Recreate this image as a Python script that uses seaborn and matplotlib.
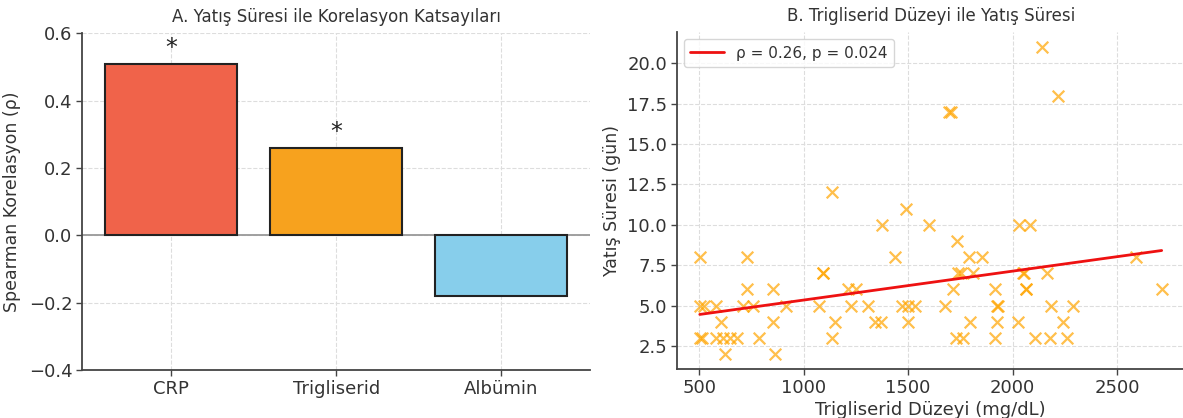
import matplotlib.pyplot as plt
import numpy as np
import pandas as pd
import seaborn as sns

# Panel A: Spearman correlations with length of stay
markers = ["CRP", "Trigliserid", "Albümin"]
rho_values = [0.51, 0.26, -0.18]
significant = [True, True, False]
bar_colors = ["#F0634A", "#F7A21E", "#87CEEB"]

# Panel B: triglyceride level vs. length of stay
trig = [503, 729, 503, 524, 580, 503, 513, 580, 612, 647, 679, 604, 623,
        729, 708, 756, 788, 851, 851, 864, 916, 1075, 1091, 1093, 1134,
        1150, 1134, 1211, 1251, 1227, 1307, 1339, 1371, 1374, 1435, 1491,
        1470, 1499, 1531, 1499, 1600, 2141, 2215, 1695, 1705, 1734, 1791,
        1854, 1739, 1755, 1811, 1715, 1675, 1794, 1731, 1763, 1914, 1925,
        1928, 1925, 1914, 2031, 2082, 2050, 2053, 2063, 2066, 2025, 2106,
        2178, 2261, 2166, 2182, 2290, 2239, 2590, 2713]
stay = [8, 8, 5, 5, 5, 3, 3, 3, 3, 3, 3, 4, 2,
        6, 5, 5, 3, 6, 4, 2, 5, 5, 7, 7, 12,
        4, 3, 6, 6, 5, 5, 4, 4, 10, 8, 11,
        5, 5, 5, 4, 10, 21, 18, 17, 17, 9, 8,
        8, 7, 7, 7, 6, 5, 4, 3, 3, 6, 5,
        5, 4, 3, 10, 10, 7, 7, 6, 6, 4, 3,
        3, 3, 7, 5, 5, 4, 8, 6]
fit_label = "ρ = 0.26, p = 0.024"

df_bar = pd.DataFrame({"marker": markers, "rho": rho_values})
df_sc = pd.DataFrame({"trig": trig, "stay": stay})

sns.set_style("white")
plt.rcParams["font.family"] = ["DejaVu Sans"]
plt.rcParams["text.color"] = "#333333"
plt.rcParams["axes.labelcolor"] = "#333333"

fig = plt.figure(figsize=(11.83, 4.18), dpi=100)
ax1 = fig.add_axes([0.0696, 0.115, 0.4291, 0.805])
ax2 = fig.add_axes([0.572, 0.1165, 0.4295, 0.8075])

# --- Panel A
sns.barplot(data=df_bar, x="marker", y="rho", hue="marker", palette=bar_colors,
            saturation=1, edgecolor="#222222", linewidth=1.5, width=0.8,
            legend=False, ax=ax1, zorder=3)
ax1.axhline(0, color="#999999", linewidth=1.3, zorder=2)
for i, (val, sig) in enumerate(zip(rho_values, significant)):
    if sig:
        ax1.text(i, val + 0.012, "*", ha="center", va="bottom", fontsize=17,
                 color="#222222")
ax1.set_xlim(-0.54, 2.54)
ax1.set_ylim(-0.4, 0.6)
ax1.set_yticks([-0.4, -0.2, 0.0, 0.2, 0.4, 0.6])
ax1.set_yticklabels(["\u22120.4", "\u22120.2", "0.0", "0.2", "0.4", "0.6"])
ax1.set_xlabel("")
ax1.set_ylabel("Spearman Korelasyon (ρ)", fontsize=12.5, labelpad=6)
ax1.set_title("A. Yatış Süresi ile Korelasyon Katsayıları", fontsize=12, pad=8)

# --- Panel B
sns.scatterplot(data=df_sc, x="trig", y="stay", marker="x", color="orange",
                alpha=0.7, s=70, linewidth=1.6, ax=ax2, zorder=3)
slope, intercept = np.polyfit(df_sc["trig"], df_sc["stay"], 1)
x_line = np.array([df_sc["trig"].min(), df_sc["trig"].max()])
ax2.plot(x_line, slope * x_line + intercept, color="#EE1111", linewidth=2,
         label=fit_label, zorder=4)
ax2.set_xlabel("Trigliserid Düzeyi (mg/dL)", fontsize=13, labelpad=3)
ax2.set_ylabel("Yatış Süresi (gün)", fontsize=12.5)
ax2.set_title("B. Trigliserid Düzeyi ile Yatış Süresi", fontsize=12, pad=8)
ax2.legend(loc="upper left", fontsize=11, handlelength=2.2)

for ax in (ax1, ax2):
    ax.tick_params(axis="both", labelsize=13, length=4, width=1,
                   color="#444444", labelcolor="#333333", left=True, bottom=True, pad=3)
    ax.grid(True, linestyle="--", color="#dddddd", linewidth=0.8, zorder=0)
    ax.set_axisbelow(True)
    for side in ("top", "right"):
        ax.spines[side].set_visible(False)
    for side in ("left", "bottom"):
        ax.spines[side].set_color("#444444")
        ax.spines[side].set_linewidth(1.3)

fig.savefig("out.png", dpi=100)
